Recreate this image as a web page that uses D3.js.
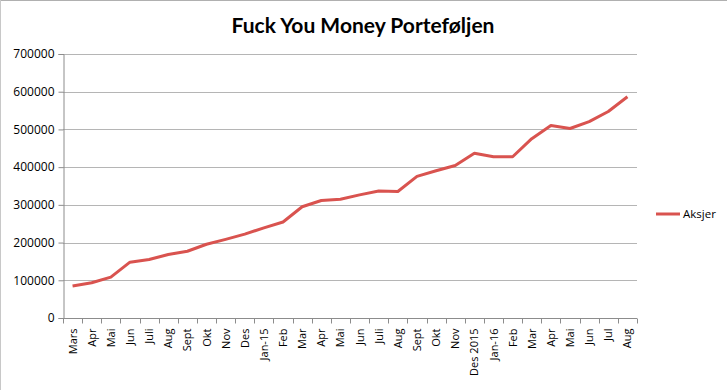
<!DOCTYPE html>
<html>
<head>
<meta charset="utf-8">
<script src="https://cdn.jsdelivr.net/npm/d3@7"></script>
<style>
  body { margin: 0; background: #fff; }
  svg { display: block; }
</style>
</head>
<body>
<div id="chart"></div>
<script>
// month labels on the x axis
var months = ["Mars", "Apr", "Mai", "Jun", "Juli", "Aug", "Sept", "Okt", "Nov", "Des",
              "Jan-15", "Feb", "Mar", "Apr", "Mai", "Jun", "Juli", "Aug", "Sept", "Okt",
              "Nov", "Des 2015", "Jan-16", "Feb", "Mar", "Apr", "Mai", "Jun", "Jul", "Aug"];

// portfolio value (Aksjer)
var aksjer = [85000, 93500, 108500, 148000, 155000, 168500, 177000, 195500, 208500, 222500,
              239000, 254500, 295000, 311500, 315000, 326500, 336500, 335500, 375500, 390500,
              404500, 437000, 427500, 427500, 475500, 510500, 502500, 520500, 547500, 586500];

var yTicks = [0, 100000, 200000, 300000, 400000, 500000, 600000, 700000];

var W = 727, H = 390;
var margin = {top: 54, left: 63, right: 90, bottom: 72};
var width = 637 - margin.left,
    height = 318 - margin.top;

var svg = d3.select("#chart").append("svg")
    .attr("width", W).attr("height", H);

// frame: only top and left edges show in the picture
svg.append("line")
    .attr("x1", 0).attr("x2", W).attr("y1", 0.5).attr("y2", 0.5)
    .attr("stroke", "#b0b0b0");
svg.append("line")
    .attr("x1", 0.5).attr("x2", 0.5).attr("y1", 0).attr("y2", H)
    .attr("stroke", "#c8c8c8");

svg.append("text")
    .attr("x", 363).attr("y", 33)
    .attr("text-anchor", "middle")
    .attr("font-family", "Lato, 'Open Sans', sans-serif")
    .attr("font-weight", "bold")
    .attr("font-size", "21px")
    .attr("fill", "#000")
    .text("Fuck You Money Porteføljen");

var g = svg.append("g")
    .attr("transform", "translate(" + margin.left + "," + margin.top + ")");

var x = d3.scaleBand().domain(d3.range(months.length)).range([0, width]);
var y = d3.scaleLinear().domain([0, 700000]).range([height, 0]);

// gridlines
g.append("g")
  .selectAll("line")
  .data(yTicks.slice(1))
  .enter().append("line")
    .attr("x1", 0).attr("x2", width)
    .attr("y1", function(d) { return Math.round(y(d)) + 0.5; })
    .attr("y2", function(d) { return Math.round(y(d)) + 0.5; })
    .attr("stroke", "#b5b5b5").attr("stroke-width", 1);

// y axis
var yAxis = g.append("g")
    .attr("transform", "translate(0.5,0)")
    .call(d3.axisLeft(y).tickValues(yTicks).tickSize(5).tickPadding(4).tickFormat(d3.format("d")));
yAxis.selectAll("path, line").attr("stroke", "#8c8c8c");
yAxis.selectAll("text")
    .attr("font-family", "'Open Sans', sans-serif")
    .attr("font-size", "12px")
    .attr("fill", "#000");

// x axis (ticks on band boundaries)
var xAxis = g.append("g")
    .attr("transform", "translate(0," + (Math.round(height) + 0.5) + ")");
xAxis.append("line")
    .attr("x1", 0).attr("x2", width)
    .attr("stroke", "#8c8c8c");
xAxis.selectAll(".tk")
  .data(d3.range(months.length + 1))
  .enter().append("line")
    .attr("class", "tk")
    .attr("x1", function(i) { return Math.round(i * x.step()) + 0.5; })
    .attr("x2", function(i) { return Math.round(i * x.step()) + 0.5; })
    .attr("y1", 0).attr("y2", 5)
    .attr("stroke", "#8c8c8c");
xAxis.selectAll(".lbl")
  .data(months)
  .enter().append("text")
    .attr("class", "lbl")
    .attr("transform", function(d, i) {
      return "translate(" + (x(i) + x.bandwidth() / 2 + 4) + ",10) rotate(-90)";
    })
    .attr("text-anchor", "end")
    .attr("font-family", "'Open Sans', sans-serif")
    .attr("font-size", "11px")
    .attr("fill", "#000")
    .text(function(d) { return d; });

// the line
var line = d3.line()
    .x(function(d, i) { return x(i) + x.bandwidth() / 2; })
    .y(function(d) { return y(d); });

g.append("path")
    .datum(aksjer)
    .attr("d", line)
    .attr("fill", "none")
    .attr("stroke", "#d9534f")
    .attr("stroke-width", 3)
    .attr("stroke-linejoin", "round");

// legend
var lg = svg.append("g").attr("transform", "translate(656,214)");
lg.append("line")
    .attr("x1", 0).attr("x2", 24)
    .attr("stroke", "#d9534f").attr("stroke-width", 3);
lg.append("text")
    .attr("x", 27).attr("y", 4)
    .attr("font-family", "'Open Sans', sans-serif")
    .attr("font-size", "11.5px")
    .attr("fill", "#000")
    .text("Aksjer");
</script>
</body>
</html>
